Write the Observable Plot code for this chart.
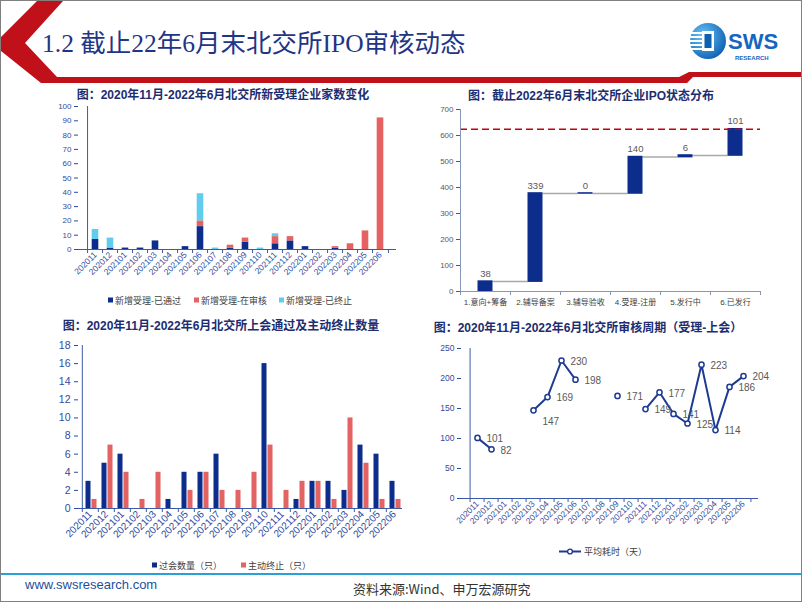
<!DOCTYPE html>
<html><head><meta charset="utf-8">
<script src="https://cdn.jsdelivr.net/npm/d3@7"></script>
<script src="https://cdn.jsdelivr.net/npm/@observablehq/plot@0.6"></script>
<style>
html,body{margin:0;padding:0;background:#fff;}
#slide{position:relative;width:800px;height:600px;border:1px solid #808080;overflow:hidden;background:#fff;font-family:"Noto Sans CJK SC",sans-serif;}
.box{position:absolute;}
.ct{position:absolute;font-weight:bold;font-size:12px;color:#1c2d70;white-space:nowrap;transform:translate(-50%,-50%);line-height:1;font-family:"Liberation Sans","Noto Sans CJK SC",sans-serif;}
.lg{position:absolute;white-space:nowrap;font-size:9px;color:#404040;transform:translateY(-50%);line-height:1;display:flex;align-items:center;font-family:"Noto Sans CJK SC",sans-serif;}
.sw{display:inline-block;width:5px;height:5px;margin-right:2px;}
#title{position:absolute;left:41px;top:30px;font-family:"Liberation Serif","Noto Sans CJK SC",serif;font-size:25.5px;color:#1f3585;line-height:1;white-space:nowrap;}
#url{position:absolute;left:24px;top:577px;font-family:"Liberation Sans",sans-serif;font-size:13px;color:#1f4e9a;line-height:1;}
#src{position:absolute;left:352px;top:581px;font-family:"Noto Sans CJK SC",sans-serif;font-size:13px;color:#333;line-height:1;white-space:nowrap;}
</style></head><body>
<div id="slide">
<svg class="box" style="left:0;top:0" width="800" height="600">
  <polygon fill="#c0101a" points="36,0 62,0 24,42 56,76 678,76 688,71 800,71 800,76 692,76 686,82 40,82 0,50 0,36"/>
  <defs><radialGradient id="lgr" cx="0.35" cy="0.35" r="0.75"><stop offset="0" stop-color="#6cc4f5"/><stop offset="1" stop-color="#0a5cb0"/></radialGradient></defs>
  <circle cx="707" cy="40" r="18" fill="url(#lgr)"/>
  <g fill="#fff"><rect x="690" y="31" width="11" height="2"/><rect x="689" y="35" width="12" height="2"/><rect x="689" y="39" width="12" height="2"/><rect x="689" y="43" width="12" height="2"/><rect x="690" y="47" width="11" height="2"/></g>
  <rect x="701" y="30" width="12" height="20" fill="#fff"/>
  <rect x="703.5" y="33" width="7" height="14" fill="#0d5fb0"/>
  <text x="727" y="48" font-family="Liberation Sans" font-weight="bold" font-size="22" fill="#1466c0">SWS</text>
  <text x="734" y="59" font-family="Liberation Sans" font-weight="bold" font-size="6" fill="#1466c0">RESEARCH</text>
  <rect x="0" y="572" width="800" height="2" fill="#2a9fd8"/>
</svg>
<div id="title">1.2 截止22年6月末北交所IPO审核动态</div>
<div class="ct" style="left:222px;top:94px">图：2020年11月-2022年6月北交所新受理企业家数变化</div>
<div class="ct" style="left:590px;top:95px">图：截止2022年6月末北交所企业IPO状态分布</div>
<div class="ct" style="left:220px;top:325px">图：2020年11月-2022年6月北交所上会通过及主动终止数量</div>
<div class="ct" style="left:587px;top:327px">图：2020年11月-2022年6月北交所审核周期（受理-上会）</div>
<div id="c1" class="box" style="left:20px;top:100px"></div>
<div id="c2" class="box" style="left:415px;top:100px"></div>
<div id="c3" class="box" style="left:20px;top:336px;width:381px;height:215px;overflow:hidden"></div>
<div id="c4" class="box" style="left:415px;top:340px"></div>
<div id="url">www.swsresearch.com</div>
<div id="src">资料来源:Wind、申万宏源研究</div>
</div>
<script>
// ---------- data ----------
const months = ["202011","202012","202101","202102","202103","202104","202105","202106","202107","202108","202109","202110","202111","202112","202201","202202","202203","202204","202205","202206"];
// chart 1: newly accepted companies
const series1 = ["新增受理-已通过","新增受理-在审核","新增受理-已终止"];
const acceptedPassed     = [7,1,1,1,6,0,2,16,0,1,5,0,4,6,2,0,1,0,0,0];
const acceptedInReview   = [0,0,0,0,0,0,0,4,0,2,3,0,5,3,0,0,1,4,13,92];
const acceptedTerminated = [7,7,0,0,0,0,0,19,1,0,0,1,2,0,0,0,0,0,0,0];
const yTicks1 = [0,10,20,30,40,50,60,70,80,90,100];
// chart 2: IPO status waterfall
const stages = ["1.意向+筹备","2.辅导备案","3.辅导验收","4.受理-注册","5.发行中","6.已发行"];
const stageCounts = [38,339,0,140,6,101];
const yTicks2 = [0,100,200,300,400,500,600,700];
// chart 3: meetings passed & withdrawn
const series3 = ["过会数量（只）","主动终止（只）"];
const meetingPassed = [3,5,6,0,0,1,4,4,6,0,0,16,0,1,3,3,2,7,6,3];
const withdrawn     = [1,7,4,1,4,0,2,4,2,2,4,7,2,3,3,1,10,5,1,1];
const yTicks3 = [0,2,4,6,8,10,12,14,16,18];
// chart 4: review cycle (days)
const series4 = "平均耗时（天）";
const reviewDays = [101,82,null,null,147,169,230,198,null,null,171,null,149,177,141,125,223,114,186,204];
const yTicks4 = [0,50,100,150,200,250];

// ---------- styles ----------
const NAVY = "#0c2d8c", RED = "#e46262", LBLUE = "#62ccef";
const AXB = "#3c5aa8", LBLB = "#2f4b9e";
const AXG = "#8797b8", LBLG = "#595959";
const FONT = "Liberation Sans, Noto Sans CJK SC, sans-serif";
const baseStyle = (fs) => ({fontFamily: FONT, fontSize: fs, background: "transparent", overflow: "visible", maxWidth: "none"});

function frameMarks(domain, step, stroke) {
  return [
    Plot.ruleY([0], {stroke}),
    Plot.ruleX([domain[0]], {dx: -step/2, stroke}),
    Plot.ruleX(domain, {dx: -step/2, y1: 0, y2: 0, insetBottom: -4, stroke}),
    Plot.ruleX([domain[domain.length-1]], {dx: step/2, y1: 0, y2: 0, insetBottom: -4, stroke})
  ];
}

// ---------- chart 1 ----------
{
  const W = 385, H = 190, ml = 57, mr = 10, mt = 5, mb = 42;
  const step = (W - ml - mr) / months.length;
  const cols = [acceptedPassed, acceptedInReview, acceptedTerminated];
  const stacked = months.flatMap((m, i) => {
    let acc = 0;
    return series1.map((s, k) => { const y1 = acc; acc += cols[k][i]; return {month: m, series: s, y1, y2: acc}; });
  }).filter(d => d.y2 > d.y1);
  const chart = Plot.plot({
    width: W, height: H, marginLeft: ml, marginRight: mr, marginTop: mt, marginBottom: mb,
    style: baseStyle("8px"),
    x: {type: "point", domain: months, padding: 0.5, axis: null, label: null},
    y: {domain: [0, d3.max(yTicks1)], axis: null, label: null},
    color: {domain: series1, range: [NAVY, RED, LBLUE]},
    marks: [
      Plot.rectY(stacked, {x1: "month", x2: "month", y1: "y1", y2: "y2", fill: "series", insetLeft: -3.3, insetRight: -3.3}),
      ...frameMarks(months, step, AXB),
      Plot.axisY({ticks: yTicks1, tickSize: 4, tickPadding: 3, color: LBLB, fontSize: 8, label: null}),
      Plot.axisX({tickSize: 0, tickPadding: 4, tickRotate: -45, color: LBLB, fontSize: 8.5, label: null})
    ]
  });
  document.getElementById("c1").append(chart);
}

// ---------- chart 2 ----------
{
  const W = 360, H = 210, ml = 44, mr = 16, mt = 8, mb = 20;
  const step = (W - ml - mr) / stages.length;
  const ends = d3.cumsum(stageCounts);
  const wf = stages.map((s, i) => ({stage: s, value: stageCounts[i], start: ends[i] - stageCounts[i], end: ends[i]}));
  const links = wf.slice(0, -1).map((d, i) => ({from: d.stage, to: stages[i + 1], level: d.end}));
  const total = d3.sum(stageCounts);
  const half = 7.5;
  const chart = Plot.plot({
    width: W, height: H, marginLeft: ml, marginRight: mr, marginTop: mt, marginBottom: mb,
    style: baseStyle("8px"),
    x: {type: "point", domain: stages, padding: 0.5, axis: null, label: null},
    y: {domain: [0, d3.max(yTicks2)], axis: null, label: null},
    marks: [
      Plot.ruleY(links, {y: "level", x1: "from", x2: "to", insetLeft: half, insetRight: half, stroke: "#a9a9a9", strokeWidth: 1.5}),
      Plot.rectY(wf, {x1: "stage", x2: "stage", y1: "start", y2: "end", fill: NAVY, insetLeft: -half, insetRight: -half, insetTop: -0.8, insetBottom: -0.8}),
      Plot.ruleY([total], {stroke: "#c8000a", strokeWidth: 1.5, strokeDasharray: "7,4"}),
      Plot.text(wf, {x: "stage", y: "end", text: "value", dy: -8, fill: LBLG, fontSize: 9.5}),
      ...frameMarks(stages, step, AXG),
      Plot.axisY({ticks: yTicks2, tickSize: 4, tickPadding: 3, color: LBLG, fontSize: 8, label: null}),
      Plot.axisX({tickSize: 0, tickPadding: 8, color: "#404040", fontSize: 8, label: null})
    ]
  });
  document.getElementById("c2").append(chart);
}

// ---------- chart 3 ----------
{
  const W = 400, H = 215, ml = 57, mr = 16, mt = 8, mb = 44;
  const step = (W - ml - mr) / months.length;
  const rows = months.map((m, i) => ({month: m, passed: meetingPassed[i], withdrawn: withdrawn[i]}));
  const chart = Plot.plot({
    width: W, height: H, marginLeft: ml, marginRight: mr, marginTop: mt, marginBottom: mb,
    style: baseStyle("10px"),
    x: {type: "point", domain: months, padding: 0.5, axis: null, label: null},
    y: {domain: [0, d3.max(yTicks3)], axis: null, label: null},
    marks: [
      Plot.rectY(rows, {x1: "month", x2: "month", y1: 0, y2: "passed", fill: NAVY, insetLeft: -4.5, insetRight: -0.5}),
      Plot.rectY(rows, {x1: "month", x2: "month", y1: 0, y2: "withdrawn", fill: RED, insetLeft: 1.5, insetRight: -6.5}),
      ...frameMarks(months, step, AXB),
      Plot.axisY({ticks: yTicks3, tickSize: 4, tickPadding: 4, color: LBLB, fontSize: 10.5, label: null}),
      Plot.axisX({tickSize: 0, tickPadding: 4, tickRotate: -45, color: LBLB, fontSize: 10, label: null})
    ]
  });
  document.getElementById("c3").append(chart);
}

// ---------- chart 4 ----------
{
  const W = 370, H = 200, ml = 45, mr = 28, mt = 7, mb = 43;
  const step = (W - ml - mr) / months.length;
  const rows = months.map((m, i) => ({month: m, days: reviewDays[i]}));
  const pts = rows.filter(d => d.days != null);
  const chart = Plot.plot({
    width: W, height: H, marginLeft: ml, marginRight: mr, marginTop: mt, marginBottom: mb,
    style: baseStyle("8px"),
    x: {type: "point", domain: months, padding: 0.5, axis: null, label: null},
    y: {domain: [0, d3.max(yTicks4)], axis: null, label: null},
    marks: [
      ...frameMarks(months, step, AXB),
      Plot.line(rows, {x: "month", y: "days", stroke: "#1f3a93", strokeWidth: 2}),
      Plot.dot(pts, {x: "month", y: "days", r: 2.6, fill: "white", stroke: "#1f3a93", strokeWidth: 1.5}),
      Plot.text(pts.filter(d => d.days !== 147), {x: "month", y: "days", text: "days", dx: 9, dy: 1, textAnchor: "start", fill: LBLG, fontSize: 10}),
      Plot.text(pts.filter(d => d.days === 147), {x: "month", y: "days", text: "days", dx: 9, dy: 11, textAnchor: "start", fill: LBLG, fontSize: 10}),
      Plot.axisY({ticks: yTicks4, tickSize: 4, tickPadding: 3, color: LBLB, fontSize: 8.5, label: null}),
      Plot.axisX({tickSize: 0, tickPadding: 4, tickRotate: -45, color: LBLB, fontSize: 8.5, label: null})
    ]
  });
  document.getElementById("c4").append(chart);
}

// ---------- legends (HTML) ----------
function legendItem(left, top, color, label) {
  const d = document.createElement("div");
  d.className = "lg";
  d.style.left = left + "px"; d.style.top = top + "px";
  d.innerHTML = `<span class="sw" style="background:${color}"></span>${label}`;
  document.getElementById("slide").append(d);
}
[NAVY, RED, LBLUE].forEach((c, i) => legendItem([107, 193, 278][i], 299, c, series1[i]));
[NAVY, RED].forEach((c, i) => legendItem([151, 240][i], 564, c, series3[i]));
{
  const d = document.createElement("div");
  d.className = "lg";
  d.style.left = "557px"; d.style.top = "550px";
  d.innerHTML = `<svg width="24" height="8" style="margin-right:2px"><line x1="1" y1="4" x2="23" y2="4" stroke="#1f3a93" stroke-width="2"/><circle cx="12" cy="4" r="2.4" fill="#fff" stroke="#1f3a93" stroke-width="1.4"/></svg>${series4}`;
  document.getElementById("slide").append(d);
}
</script>
</body></html>
